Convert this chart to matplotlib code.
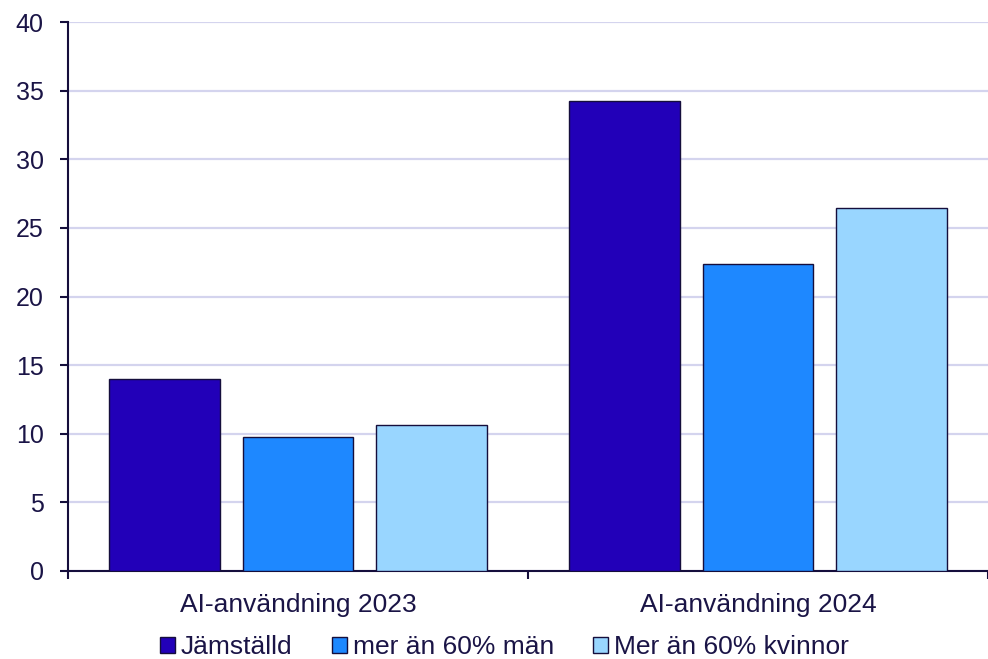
import matplotlib
matplotlib.use("Agg")
import matplotlib.pyplot as plt
import numpy as np

categories = ["AI-användning 2023", "AI-användning 2024"]
series_names = ["Jämställd", "mer än 60% män", "Mer än 60% kvinnor"]
jamstalld = [14.0, 34.25]
man60 = [9.75, 22.4]
kvinnor60 = [10.65, 26.45]
yticks = [0, 5, 10, 15, 20, 25, 30, 35, 40]

colors = ["#2200B8", "#1E88FF", "#99D6FF"]
ink = "#1A1446"
edge = "#150E3C"
grid = "#D4D4EE"

plt.rcParams["font.family"] = ["Liberation Sans", "DejaVu Sans"]

fig = plt.figure(figsize=(9.88, 6.59), dpi=100)
ax = fig.add_axes([68 / 988, 88 / 659, 920 / 988, 549 / 659])

x = np.arange(len(categories))
width = 0.241
offsets = [-0.29, 0.0, 0.29]
handles = []
for vals, name, col, off in zip([jamstalld, man60, kvinnor60], series_names, colors, offsets):
    bars = ax.bar(x + off, vals, width, color=col, edgecolor=edge, linewidth=1.0,
                  label=name, zorder=3)
    handles.append(bars)

ax.set_xlim(-0.5, len(categories) - 0.5)
ax.set_ylim(0, 40)
ax.set_yticks(yticks)
ax.set_yticklabels([str(t) for t in yticks])
ax.yaxis.grid(True, color=grid, linewidth=1.6, zorder=0)
ax.set_axisbelow(True)

ax.set_xticks(x)
ax.set_xticklabels(categories)
ax.set_xticks([-0.5, 0.5, 1.5], minor=True)
ax.tick_params(axis="x", which="major", length=0, pad=16, labelsize=19, labelcolor=ink)
ax.tick_params(axis="x", which="minor", length=5.5, width=1.5, color=edge)
ax.tick_params(axis="y", length=5.5, width=1.5, color=edge, labelsize=18, labelcolor=ink, pad=12)

for s in ["top", "right"]:
    ax.spines[s].set_visible(False)
for s in ["left", "bottom"]:
    ax.spines[s].set_color(edge)
    ax.spines[s].set_linewidth(1.5)

# one legend entry per series, laid out along the bottom edge
legend_x = [160, 332, 593]
for h, name, lx in zip(handles, series_names, legend_x):
    fig.legend([h], [name], loc="center left", bbox_to_anchor=(lx / 988, 12 / 659),
               frameon=False, fontsize=19, handlelength=0.55, handleheight=0.55,
               handletextpad=0.25, labelcolor=ink, borderpad=0, borderaxespad=0)

fig.savefig("out.png", dpi=100)
